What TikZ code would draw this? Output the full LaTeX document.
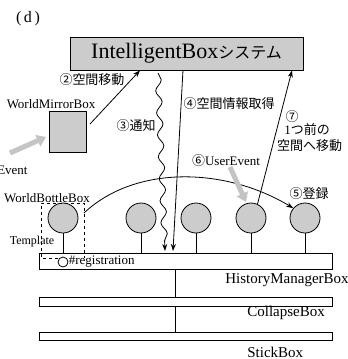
\documentclass[tikz,border=0pt]{standalone}
\usepackage{fontspec}
\setmainfont{Liberation Serif}
\newfontfamily\jp{Noto Sans CJK JP}
\usetikzlibrary{arrows.meta,decorations.pathmorphing}
\definecolor{boxgray}{RGB}{204,204,204}
\definecolor{evgray}{RGB}{196,196,196}
\begin{document}
\begin{tikzpicture}[x=1pt,y=-1pt,line width=0.8pt,
  lbl/.style={font=\fontsize{13}{15}\selectfont, inner sep=0pt},
  biglbl/.style={font=\fontsize{15}{17}\selectfont, inner sep=0pt},
  smalllbl/.style={font=\fontsize{12}{14}\selectfont, inner sep=0pt},
  graybox/.style={draw, fill=boxgray, inner sep=0pt},
  bottle/.style={circle, draw, fill=boxgray, minimum size=30pt, inner sep=0pt},
  bar/.style={draw, fill=white, minimum width=293pt, inner sep=0pt, anchor=north west},
  link/.style={-{Stealth[length=7pt,width=5pt]}},
  userarrow/.style={line width=5pt, draw=evgray, -{Triangle[length=9pt,width=12pt]}}]
\useasboundingbox (0,0) rectangle (348,359);

% title
\node[font=\fontsize{16}{18}\selectfont, inner sep=0pt] (title) at (28,19) {(\,d\,)};

% system box
\node[graybox, minimum width=233pt, minimum height=33pt] (ib) at (186.5,53.5)
  {\fontsize{22}{24}\selectfont IntelligentBox{\jp\fontsize{16}{18}\selectfont システム}};

% WorldMirrorBox
\node[graybox, minimum width=37pt, minimum height=41pt] (wmb) at (67.5,131.5) {};
\node[lbl] (wmblbl) at (51,104) {WorldMirrorBox};

% history / collapse / stick bars
\node[bar, minimum height=16pt] (hmb) at (39,253) {};
\node[bar, minimum height=9pt] (cb) at (39,297) {};
\node[bar, minimum height=8pt] (sb) at (39,332) {};
\coordinate (hmbmid) at (175,269);
\draw (hmbmid) -- (hmbmid |- cb.north);
\draw (hmbmid |- cb.south) -- (hmbmid |- sb.north);
\node[biglbl, anchor=west] (hmblbl) at (225,280) {HistoryManagerBox};
\node[biglbl, anchor=west] (cblbl) at (247,313) {CollapseBox};
\node[biglbl, anchor=west] (sblbl) at (247,352) {StickBox};

% bottles on the history bar
\foreach \i/\x in {1/63,2/141,3/196,4/251,5/305}{
  \node[bottle] (b\i) at (\x,218) {};
  \draw (b\i.south) -- (b\i.south |- hmb.north);
}

% template frame and registration slot
\draw[dashed, line width=0.7pt] (58,258) -- (41,258) -- (41,203) -- (84,203) -- (84,258);
\node[circle, draw, fill=white, minimum size=10pt, inner sep=0pt] (reg) at (63,262) {};
\node[lbl, anchor=west] (reglbl) at (reg.east) {\#registration};
\node[lbl] (bblbl) at (47,198) {WorldBottleBox};
\node[smalllbl] (tpl) at (32,242) {Template};

% (2) move to space
\coordinate (m0) at (90,124);
\draw[link] (m0) -- (ib.south -| 140,0);
\node[lbl] (l2) at (92,80) {\jp ②空間移動};

% (3) notification, (4) space info
\coordinate (w0) at (158,73);
\coordinate (w1) at (165,251);
\draw[link, decorate, decoration={snake, amplitude=3pt, segment length=22pt, post length=8pt}] (w0) -- (w1);
\node[lbl] (l3) at (136,126) {\jp ③通知};
\coordinate (s0) at (183,70);
\coordinate (s1) at (173,251);
\draw[link] (s0) -- (s1);
\node[lbl] (l4) at (229,104) {\jp ④空間情報取得};

% (5) registration
\coordinate (c0) at (84,213);
\draw[link] (c0) .. controls (135,165) and (225,167) .. (b5.140);
\node[lbl] (l5) at (309,194) {\jp ⑤登録};

% (6) user event
\coordinate (u0) at (230,167);
\draw[userarrow] (u0) -- (246,202);
\node[lbl] (l6) at (226,161) {\jp ⑥\rmfamily UserEvent};

% (7) back to previous space
\draw[link] (b4.65) -- (ib.south -| 292,0);
\node[lbl] (l7a) at (292,117) {\jp ⑦};
\node[lbl] (l7b) at (307,130) {1{\jp つ前の}};
\node[lbl] (l7c) at (309.5,146) {\jp 空間へ移動};

% user event into the mirror box
\coordinate (e0) at (10,153);
\draw[userarrow] (e0) -- (46,137);
\node[lbl, anchor=east] (evlbl) at (28,170) {Event};
\end{tikzpicture}
\end{document}
